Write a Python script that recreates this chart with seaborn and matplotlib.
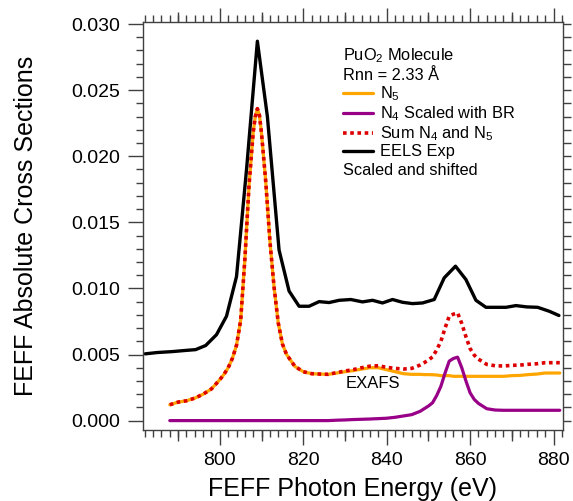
import numpy as np
import pandas as pd
import matplotlib
matplotlib.use("Agg")
import matplotlib.pyplot as plt
from matplotlib.ticker import MultipleLocator, NullFormatter
import seaborn as sns

# ---- data -------------------------------------------------------------
# common energy grid for the FEFF calculations (eV)
feff_energy = [788, 790, 792, 794, 796, 798, 800, 801, 802, 803, 804, 805,
               806, 807, 808, 808.5, 809, 809.5, 810, 811, 812, 813, 814,
               815, 816, 818, 820, 822, 824, 826, 828, 830, 832, 834, 836,
               838, 840, 842, 844, 846, 848, 849, 850, 851, 852, 853, 854,
               855, 856, 857, 858, 859, 860, 861, 862, 864, 866, 868, 870,
               872, 874, 876, 878, 880, 881.5]

n5 = [0.0012, 0.0014, 0.0015, 0.0017, 0.0020, 0.0024, 0.0031, 0.0035,
      0.0040, 0.0047, 0.0057, 0.0076, 0.0122, 0.0178, 0.0218, 0.0230,
      0.0236, 0.0231, 0.0217, 0.0181, 0.0136, 0.0101, 0.0074, 0.0058,
      0.0050, 0.0041, 0.0037, 0.00355, 0.00352, 0.0035, 0.0036, 0.0037,
      0.00378, 0.0039, 0.0040, 0.0040, 0.00385, 0.0037, 0.00355, 0.0035,
      0.0035, 0.00348, 0.00348, 0.00347, 0.00345, 0.0034, 0.0034, 0.0034,
      0.00335, 0.00335, 0.00335, 0.00335, 0.00335, 0.00335, 0.00335,
      0.00335, 0.00335, 0.00335, 0.0034, 0.00342, 0.00348, 0.00352,
      0.0036, 0.0036, 0.0036]

n4_br = [0.0, 0.0, 0.0, 0.0, 0.0, 0.0, 0.0, 0.0, 0.0, 0.0, 0.0, 0.0,
         0.0, 0.0, 0.0, 0.0, 0.0, 0.0, 0.0, 0.0, 0.0, 0.0, 0.0, 0.0,
         0.0, 0.0, 0.0, 0.0, 0.0, 0.0, 0.00003, 0.00005, 0.00008, 0.0001,
         0.00012, 0.00015, 0.00018, 0.00025, 0.00035, 0.00045, 0.0007,
         0.0009, 0.0011, 0.00135, 0.0019, 0.0026, 0.0036, 0.0045, 0.0047,
         0.0048, 0.0040, 0.0030, 0.0021, 0.0016, 0.0013, 0.0009, 0.0008,
         0.00078, 0.00078, 0.00078, 0.00078, 0.00078, 0.00078, 0.00078,
         0.00078]

n4_n5_sum = [0.0012, 0.0014, 0.0015, 0.0017, 0.0020, 0.0024, 0.0031, 0.0035,
             0.0040, 0.0047, 0.0057, 0.0076, 0.0122, 0.0178, 0.0218, 0.0230,
             0.0236, 0.0231, 0.0217, 0.0181, 0.0136, 0.0101, 0.0074, 0.0058,
             0.0050, 0.0041, 0.0037, 0.00355, 0.00352, 0.0035, 0.00363,
             0.00375, 0.00386, 0.0040, 0.00412, 0.00415, 0.00403, 0.00395,
             0.0039, 0.00395, 0.0042, 0.00438, 0.00458, 0.00482, 0.00535,
             0.006, 0.007, 0.0079, 0.00805, 0.00815, 0.00735, 0.00635,
             0.00545, 0.00495, 0.00465, 0.00425, 0.00415, 0.00413, 0.00418,
             0.0042, 0.00426, 0.0043, 0.00438, 0.00438, 0.00438]

# EELS experiment, scaled and shifted
eels_energy = [782.1, 785.0, 788.6, 791.5, 794.2, 796.6, 799.2, 801.6, 804.0,
               806.4, 809.0, 811.4, 814.2, 816.6, 819.0, 821.4, 823.8, 826.2,
               828.6, 831.4, 834.2, 836.6, 839.0, 841.4, 843.8, 846.2, 848.6,
               851.4, 853.8, 856.5, 859.0, 861.4, 863.8, 866.2, 868.6, 871.0,
               873.6, 876.2, 879.0, 881.3]
eels_exp = [0.00505, 0.00515, 0.00522, 0.0053, 0.00537, 0.00568, 0.0065,
            0.0079, 0.0109, 0.0190, 0.0287, 0.0230, 0.0129, 0.0098, 0.00865,
            0.00865, 0.0090, 0.00893, 0.0091, 0.00916, 0.00898, 0.0091,
            0.0089, 0.00916, 0.00895, 0.00885, 0.0089, 0.00916, 0.0108,
            0.01168, 0.01067, 0.0091, 0.00857, 0.00857, 0.00857, 0.0087,
            0.0086, 0.00857, 0.00827, 0.00795]

x_ticks = [800, 820, 840, 860, 880]
y_ticks = [0.000, 0.005, 0.010, 0.015, 0.020, 0.025, 0.030]

feff = pd.DataFrame({"energy": feff_energy, "n5": n5, "n4": n4_br,
                     "sum": n4_n5_sum})
eels = pd.DataFrame({"energy": eels_energy, "eels": eels_exp})

# ---- style ------------------------------------------------------------
sns.set_theme(style="ticks")
plt.rcParams["font.family"] = ["Liberation Sans", "DejaVu Sans"]
plt.rcParams["mathtext.fontset"] = "custom"
plt.rcParams["mathtext.rm"] = "Liberation Sans"
plt.rcParams["mathtext.it"] = "Liberation Sans"
plt.rcParams["text.color"] = "black"
plt.rcParams["axes.labelcolor"] = "black"
spine_col = "#404040"

fig = plt.figure(figsize=(5.73, 5.01), dpi=100)
ax = fig.add_axes([0.249, 0.142, 0.733, 0.8135])

sns.lineplot(data=feff, x="energy", y="n5", ax=ax, color="#FFA500",
             lw=2.3, label="N$_5$", estimator=None)
sns.lineplot(data=feff, x="energy", y="n4", ax=ax, color="#990088",
             lw=2.3, label="N$_4$ Scaled with BR", estimator=None)
sns.lineplot(data=feff, x="energy", y="sum", ax=ax, color="#DD0000",
             lw=2.6, linestyle=(0, (1.0, 1.0)), dash_capstyle="butt",
             label="Sum N$_4$ and N$_5$", estimator=None)
sns.lineplot(data=eels, x="energy", y="eels", ax=ax, color="black",
             lw=2.4, label="EELS Exp", estimator=None)

ax.set_xlim(781.5, 882.2)
ax.set_ylim(-0.0007, 0.03013)
ax.set_xticks(x_ticks)
ax.set_yticks(y_ticks)
ax.set_yticklabels([f"{v:.3f}" for v in y_ticks])
ax.xaxis.set_minor_locator(MultipleLocator(2))
ax.yaxis.set_minor_locator(MultipleLocator(0.001))

for s in ax.spines.values():
    s.set_visible(True)
    s.set_color(spine_col)
    s.set_linewidth(1.0)

ax.tick_params(which="major", direction="out", length=11, width=1.0,
               color=spine_col, labelsize=14, labelcolor="black", pad=5)
ax.tick_params(which="minor", direction="out", length=5, width=1.0,
               color=spine_col)

# medium ticks every 10 eV on the bottom axis
mid_ticks = [790, 810, 830, 850, 870]
bot = ax.secondary_xaxis("bottom")
bot.set_xticks(mid_ticks)
bot.xaxis.set_major_formatter(NullFormatter())
bot.tick_params(direction="out", length=8, width=1.0, color=spine_col)
bot.spines["bottom"].set_visible(False)

# top axis: 20 eV, 10 eV and 2 eV ticks, no labels
top = ax.secondary_xaxis("top")
top.set_xticks(x_ticks)
top.xaxis.set_minor_locator(MultipleLocator(2))
top.xaxis.set_major_formatter(NullFormatter())
top.tick_params(which="major", direction="out", length=10, width=1.0,
                color=spine_col)
top.tick_params(which="minor", direction="out", length=5, width=1.0,
                color=spine_col)
top.spines["top"].set_visible(False)
top_mid = ax.secondary_xaxis("top")
top_mid.set_xticks(mid_ticks)
top_mid.xaxis.set_major_formatter(NullFormatter())
top_mid.tick_params(direction="out", length=7.5, width=1.0, color=spine_col)
top_mid.spines["top"].set_visible(False)

# right axis: evenly spaced short ticks
right = ax.secondary_yaxis("right")
right.yaxis.set_major_locator(MultipleLocator(0.001))
right.yaxis.set_major_formatter(NullFormatter())
right.tick_params(direction="out", length=6, width=1.0, color=spine_col)
right.spines["right"].set_visible(False)

ax.set_xlabel("FEFF Photon Energy (eV)", fontsize=18, labelpad=6)
ax.set_ylabel("FEFF Absolute Cross Sections", fontsize=18, labelpad=24)

leg = ax.legend(title="PuO$_2$ Molecule\nRnn = 2.33 Å", loc="upper left",
                bbox_to_anchor=(0.476, 0.94), frameon=False, fontsize=11.8,
                title_fontsize=11.8, alignment="left", handlelength=1.85,
                handletextpad=0.45, labelspacing=0.08, borderpad=0,
                borderaxespad=0)
leg._legend_box.sep = 1

ax.text(0.476, 0.637, "Scaled and shifted", transform=ax.transAxes,
        fontsize=11.8, ha="left", va="center")
ax.text(830.2, 0.0028, "EXAFS", fontsize=12, ha="left", va="center")

fig.savefig("out.png", dpi=100)
